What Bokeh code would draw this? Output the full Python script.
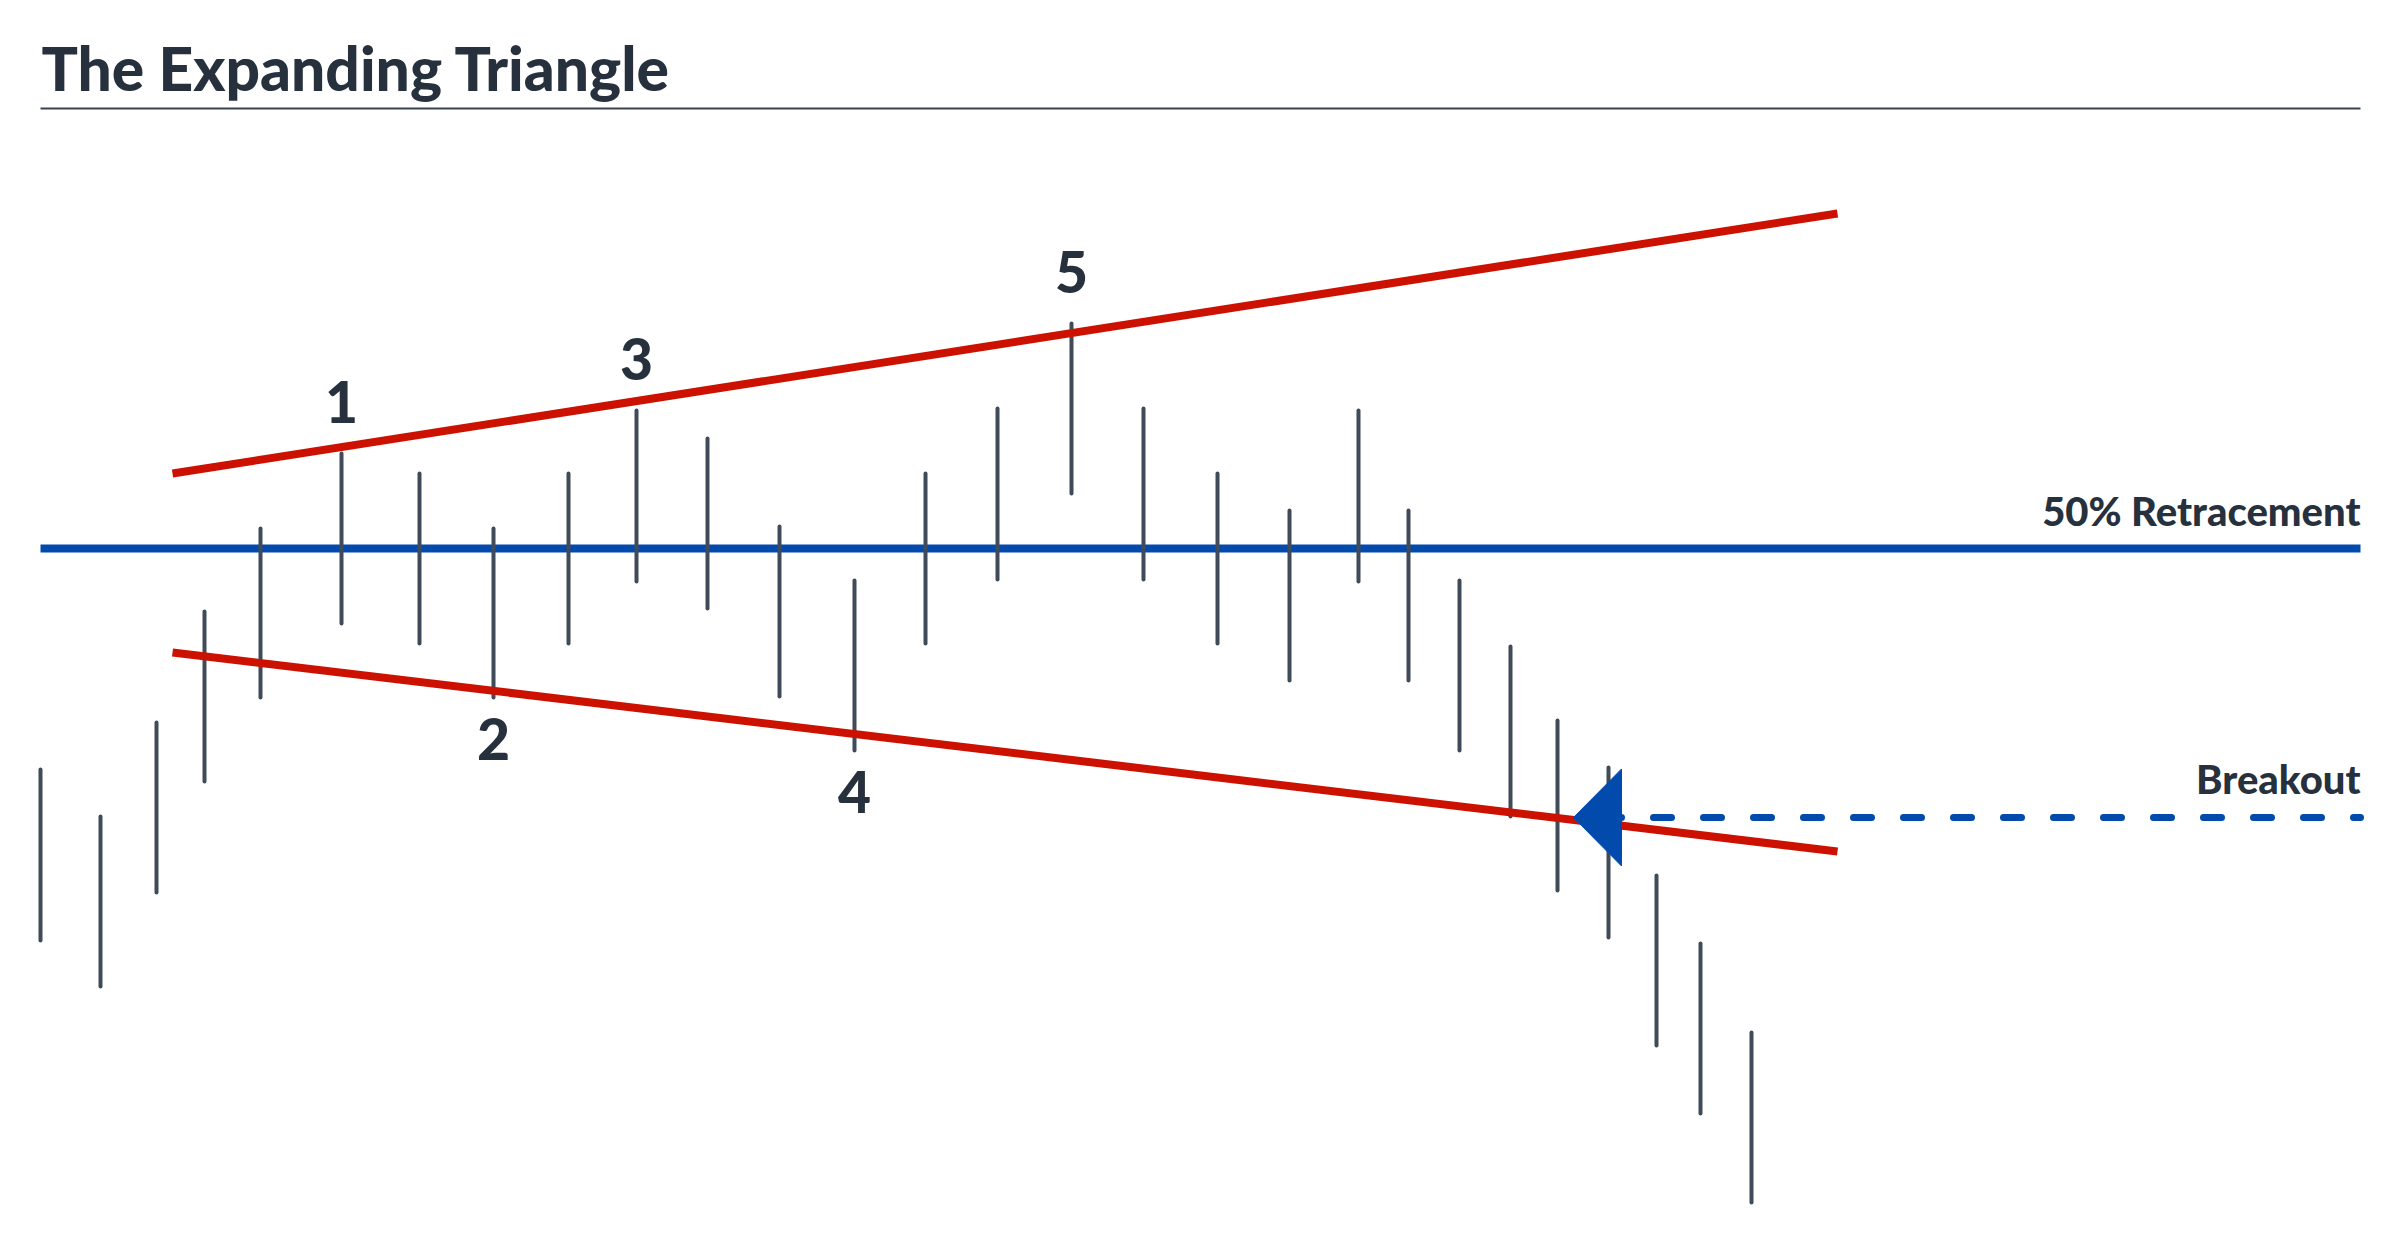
from bokeh.plotting import figure
from bokeh.models import Range1d, ColumnDataSource
from bokeh.core.properties import value
from bokeh.embed import file_html
from bokeh.resources import INLINE

# ---- data -------------------------------------------------------------
# Price bars: time position, session high, session low
bar_x = [40, 100, 156, 204, 260, 341, 419, 493, 568, 636, 707, 779, 854, 925,
         997, 1071, 1143, 1217, 1289, 1358, 1408, 1459, 1510, 1557, 1608, 1656,
         1700, 1751]
bar_high = [47.1, 42.4, 51.8, 62.9, 71.2, 78.7, 76.7, 71.2, 76.7, 83.0, 80.2,
            71.4, 66.0, 76.7, 83.2, 91.7, 83.2, 76.7, 73.0, 83.0, 73.0, 66.0,
            59.4, 52.0, 47.3, 36.5, 29.7, 20.8]
bar_low = [30.0, 25.4, 34.8, 45.9, 54.3, 61.7, 59.7, 54.3, 59.7, 65.9, 63.2,
           54.4, 49.0, 59.7, 66.1, 74.7, 66.1, 59.7, 56.0, 65.9, 56.0, 49.0,
           42.4, 35.0, 30.3, 19.5, 12.7, 3.8]

# Diverging trend lines of the pattern
upper_x = [172, 1837]
upper_y = [76.7, 102.7]
lower_x = [172, 1837]
lower_y = [58.8, 38.9]

# Horizontal reference levels
retrace_level = 69.2
retrace_span = [40, 2360]
breakout_level = 42.3
breakout_span = [1603, 2360]
arrow_tip_x = 1573

# Numbered pivots: label, bar index, side of the bar
pivot_labels = ["1", "2", "3", "4", "5"]
pivot_bars = [5, 7, 9, 12, 15]
pivot_sides = ["high", "low", "high", "low", "high"]

title_text = "The Expanding Triangle"
retrace_text = "50% Retracement"
breakout_text = "Breakout"

# ---- styling ----------------------------------------------------------
INK = "#27313D"
BAR = "#404B5A"
RED = "#CC1100"
BLUE = "#024BAD"
FONT = value("Lato Black")
PX = 0.1  # one screen pixel in price units


def lift(size):
    """Raise a text anchor so the glyph baseline lands on the target."""
    return 0.4 * size * PX


p = figure(width=2400, height=1240, x_range=Range1d(0, 2400),
           y_range=Range1d(0, 124), output_backend="svg",
           toolbar_location=None, min_border=0,
           x_axis_type=None, y_axis_type=None)
p.grid.visible = False
p.outline_line_color = None
p.background_fill_color = "white"
p.border_fill_color = "white"

# title and the rule beneath it
TITLE_SIZE = 60.5
p.text(x=[41], y=[114.9 + lift(TITLE_SIZE)], text=[title_text], text_font=FONT,
       text_font_style="bold", text_font_size=value(f"{TITLE_SIZE}px"),
       text_color=INK, text_align="left", text_baseline="alphabetic")
p.segment(x0=[40], y0=[113.2], x1=[2360], y1=[113.2],
          line_color="#3A4450", line_width=2)

# 50% retracement level
NOTE_SIZE = 40
p.line(x=retrace_span, y=[retrace_level, retrace_level],
       line_color=BLUE, line_width=8)
p.text(x=[retrace_span[1]], y=[retrace_level + 2.2 + lift(NOTE_SIZE)],
       text=[retrace_text], text_font=FONT, text_font_style="bold",
       text_font_size=value(f"{NOTE_SIZE}px"), text_color=INK,
       text_align="right", text_baseline="alphabetic")

# price bars
bars = ColumnDataSource(dict(x=bar_x, hi=bar_high, lo=bar_low))
p.segment(x0="x", y0="lo", x1="x", y1="hi", source=bars,
          line_color=BAR, line_width=4, line_cap="round")

# trend lines
p.line(x=upper_x, y=upper_y, line_color=RED, line_width=8)
p.line(x=lower_x, y=lower_y, line_color=RED, line_width=8)

# breakout level with arrow
p.line(x=breakout_span, y=[breakout_level, breakout_level],
       line_color=BLUE, line_width=7, line_dash="18 32", line_cap="round")
arrow_len = 48
arrow_half = 4.85
p.patch(x=[arrow_tip_x, arrow_tip_x + arrow_len, arrow_tip_x + arrow_len],
        y=[breakout_level, breakout_level + arrow_half,
           breakout_level - arrow_half],
        fill_color=BLUE, line_color=BLUE, line_width=1)
p.text(x=[breakout_span[1]], y=[breakout_level + 2.3 + lift(NOTE_SIZE)],
       text=[breakout_text], text_font=FONT, text_font_style="bold",
       text_font_size=value(f"{NOTE_SIZE}px"), text_color=INK,
       text_align="right", text_baseline="alphabetic")

# pivot numbers
NUM_SIZE = 57
lx, ly = [], []
for idx, side in zip(pivot_bars, pivot_sides):
    lx.append(bar_x[idx])
    if side == "high":
        base = bar_high[idx] + 2.9
    else:
        base = bar_low[idx] - 6.4
    ly.append(base + lift(NUM_SIZE))
p.text(x=lx, y=ly, text=pivot_labels, text_font=FONT,
       text_font_style="bold", text_font_size=value(f"{NUM_SIZE}px"),
       text_color=INK, text_align="center", text_baseline="alphabetic")

open("out.html", "w").write(file_html(p, INLINE))
